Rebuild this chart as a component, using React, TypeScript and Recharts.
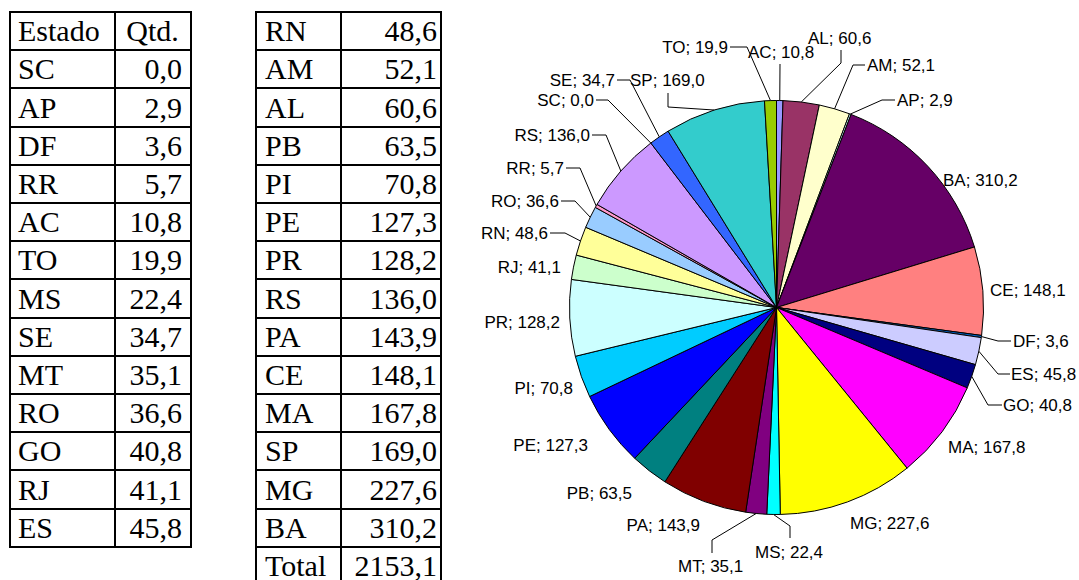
import { PieChart, Pie, Cell } from "recharts";

// dados por estado (ordem alfabética, como no gráfico)
const states = ["AC", "AL", "AM", "AP", "BA", "CE", "DF", "ES", "GO", "MA", "MG", "MS", "MT", "PA", "PB", "PE", "PI", "PR", "RJ", "RN", "RO", "RR", "RS", "SC", "SE", "SP", "TO"];
const values = [10.8, 60.6, 52.1, 2.9, 310.2, 148.1, 3.6, 45.8, 40.8, 167.8, 227.6, 22.4, 35.1, 143.9, 63.5, 127.3, 70.8, 128.2, 41.1, 48.6, 36.6, 5.7, 136.0, 0.0, 34.7, 169.0, 19.9];

const sliceColors = [
  "#9999FF", "#993366", "#FFFFCC", "#CCFFFF", "#660066", "#FF8080", "#0066CC", "#CCCCFF", "#000080",
  "#FF00FF", "#FFFF00", "#00FFFF", "#800080", "#800000", "#008080", "#0000FF", "#00CCFF", "#CCFFFF",
  "#CCFFCC", "#FFFF99", "#99CCFF", "#FF99CC", "#CC99FF", "#FFCC99", "#3366FF", "#33CCCC", "#99CC00",
];

// posição dos rótulos (texto + pontos da linha de chamada)
type Lbl = { x: number; y: number; anchor?: "start" | "end"; leader?: [number, number][] };
const labelLayout: Record<string, Lbl> = {
  AC: { x: 748, y: 52, leader: [[780, 64]] },
  AL: { x: 808, y: 38, leader: [[841, 50], [841, 63]] },
  AM: { x: 867, y: 65, leader: [[865, 65], [853, 65]] },
  AP: { x: 897, y: 100, leader: [[895, 100], [882, 100]] },
  BA: { x: 943, y: 180 },
  CE: { x: 990, y: 290 },
  DF: { x: 1013, y: 341, leader: [[1011, 341], [998, 341]] },
  ES: { x: 1011, y: 374, leader: [[1010, 374], [998, 374]] },
  GO: { x: 1003, y: 405, leader: [[1002, 405], [988, 405]] },
  MA: { x: 948, y: 447 },
  MG: { x: 850, y: 523 },
  MS: { x: 755, y: 552, leader: [[790, 538], [790, 526]] },
  MT: { x: 678, y: 566, leader: [[712, 553], [712, 540]] },
  PA: { x: 700, y: 525, anchor: "end" },
  PB: { x: 632, y: 493, anchor: "end" },
  PE: { x: 588, y: 445, anchor: "end" },
  PI: { x: 573, y: 388, anchor: "end" },
  PR: { x: 560, y: 322, anchor: "end" },
  RJ: { x: 561, y: 267, anchor: "end" },
  RN: { x: 548, y: 233, anchor: "end", leader: [[550, 233], [565, 233]] },
  RO: { x: 559, y: 201, anchor: "end", leader: [[561, 201], [575, 201]] },
  RR: { x: 564, y: 168, anchor: "end", leader: [[566, 168], [580, 168]] },
  RS: { x: 590, y: 135, anchor: "end", leader: [[592, 135], [606, 135]] },
  SC: { x: 594, y: 100, anchor: "end", leader: [[596, 100], [608, 100]] },
  SE: { x: 615, y: 80, anchor: "end", leader: [[617, 80], [630, 80]] },
  SP: { x: 630, y: 80, leader: [[668, 93], [668, 107]] },
  TO: { x: 728, y: 47, anchor: "end", leader: [[730, 47], [747, 47]] },
};

const fmt = (v: number) => v.toFixed(1).replace(".", ",");

const pieData = states.map((s, i) => ({ state: s, value: values[i] }));

const sorted = states
  .map((s, i) => ({ s, v: values[i] }))
  .sort((a, b) => a.v - b.v);
const total = values.reduce((a, b) => a + b, 0);

const table1 = [["Estado", "Qtd."], ...sorted.slice(0, 13).map((r) => [r.s, fmt(r.v)])];
const table2 = [...sorted.slice(13).map((r) => [r.s, fmt(r.v)]), ["Total", fmt(total)]];

const RAD = Math.PI / 180;

function renderLabel(p: any) {
  const name = p.name ?? p.payload?.state;
  const lay = labelLayout[name];
  if (!lay) return null;
  const ex = p.cx + p.outerRadius * Math.cos(-p.midAngle * RAD);
  const ey = p.cy + p.outerRadius * Math.sin(-p.midAngle * RAD);
  const pts = lay.leader ? [...lay.leader, [ex, ey]] : null;
  return (
    <g key={"lbl-" + name}>
      {pts && (
        <polyline
          points={pts.map((q) => q.join(",")).join(" ")}
          fill="none"
          stroke="#000"
          strokeWidth={1}
        />
      )}
      <text
        x={lay.x}
        y={lay.y}
        textAnchor={lay.anchor ?? "start"}
        dominantBaseline="central"
        fontFamily="'Liberation Sans', Arial, sans-serif"
        fontSize={17}
        fill="#000"
      >
        {name}; {fmt(p.value)}
      </text>
    </g>
  );
}

const ROW_H = 38.2;

function Table({ rows, xs, top, padL, padR, centerHeader }: { rows: string[][]; xs: number[]; top: number; padL: number; padR: number; centerHeader?: boolean }) {
  return (
    <>
      {rows.map((r, i) =>
        r.map((txt, j) => {
          const y = Math.round(top + i * ROW_H);
          const y2 = Math.round(top + (i + 1) * ROW_H);
          return (
            <div
              key={i + "-" + j}
              style={{
                position: "absolute",
                left: xs[j],
                top: y,
                width: xs[j + 1] - xs[j] + 2,
                height: y2 - y + 2,
                border: "2px solid #000",
                boxSizing: "border-box",
                fontFamily: "'Liberation Serif', 'Times New Roman', serif",
                fontSize: 30,
                lineHeight: `${y2 - y - 2}px`,
                paddingLeft: padL,
                paddingRight: padR,
                textAlign: j === 0 ? "left" : centerHeader && i === 0 ? "center" : "right",
                color: "#000",
                whiteSpace: "nowrap",
              }}
            >
              {txt}
            </div>
          );
        })
      )}
    </>
  );
}

export default function App() {
  return (
    <div style={{ position: "absolute", left: 0, top: 0, width: 1079, height: 580, background: "#fff", overflow: "hidden" }}>
      <div style={{ position: "absolute", left: 0, top: 0 }}>
        <PieChart width={1079} height={580} margin={{ top: 0, right: 0, bottom: 0, left: 0 }}>
          <Pie
            data={pieData}
            dataKey="value"
            nameKey="state"
            cx={776.5}
            cy={307.5}
            outerRadius={207}
            startAngle={90}
            endAngle={-270}
            stroke="#000"
            strokeWidth={1}
            label={renderLabel}
            labelLine={false}
            isAnimationActive={false}
          >
            {pieData.map((d, i) => (
              <Cell key={d.state} fill={sliceColors[i]} />
            ))}
          </Pie>
        </PieChart>
      </div>
      <Table rows={table1} xs={[9, 114, 190]} top={11} padL={7} padR={8} centerHeader />
      <Table rows={table2} xs={[255, 340, 440]} top={11} padL={8} padR={3} />
    </div>
  );
}
